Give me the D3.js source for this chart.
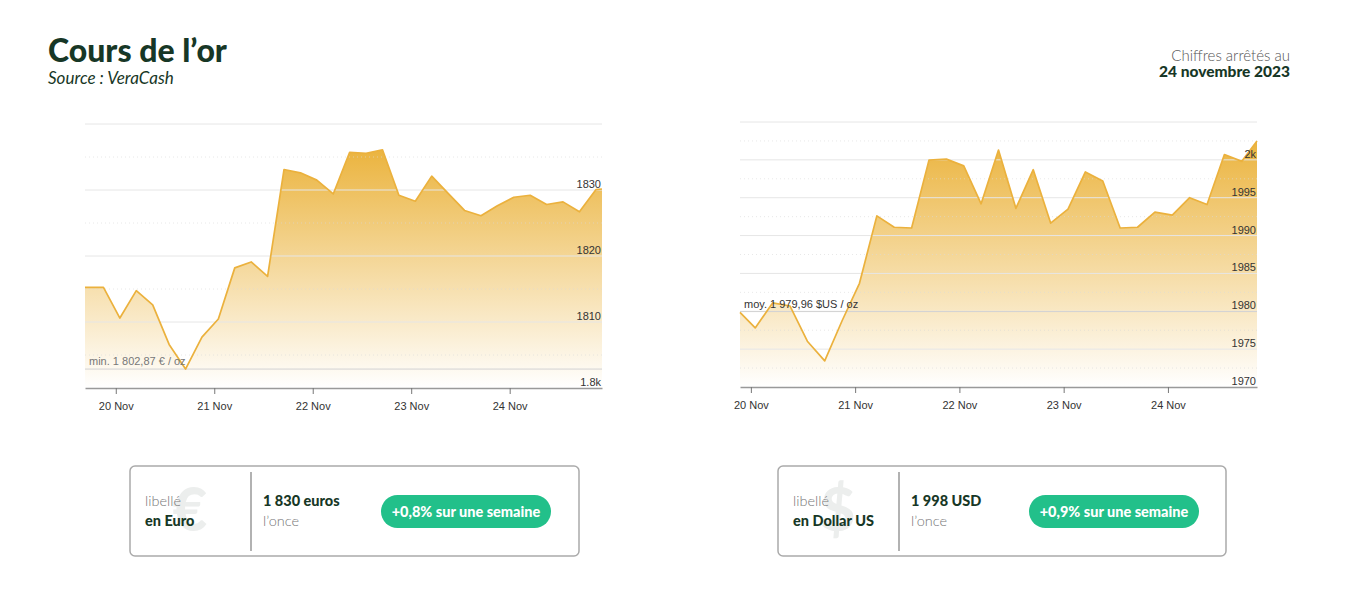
<!DOCTYPE html>
<html><head><meta charset="utf-8">
<script src="https://cdn.jsdelivr.net/npm/d3@7"></script>
<style>
html,body{margin:0;padding:0;background:#fff;}
svg{display:block;}
</style></head>
<body>
<svg id="chart" width="1350" height="600"></svg>
<script>
// ---- Data ----
const eurTimes = ["2023-11-19T16:30Z","2023-11-19T21:00Z","2023-11-20T01:00Z","2023-11-20T05:00Z","2023-11-20T09:00Z","2023-11-20T13:00Z","2023-11-20T17:00Z","2023-11-20T21:00Z","2023-11-21T01:00Z","2023-11-21T05:00Z","2023-11-21T09:00Z","2023-11-21T13:00Z","2023-11-21T17:00Z","2023-11-21T21:00Z","2023-11-22T01:00Z","2023-11-22T05:00Z","2023-11-22T09:00Z","2023-11-22T13:00Z","2023-11-22T17:00Z","2023-11-22T21:00Z","2023-11-23T01:00Z","2023-11-23T05:00Z","2023-11-23T09:00Z","2023-11-23T13:00Z","2023-11-23T17:00Z","2023-11-23T21:00Z","2023-11-24T01:00Z","2023-11-24T05:00Z","2023-11-24T09:00Z","2023-11-24T13:00Z","2023-11-24T17:00Z","2023-11-24T21:00Z","2023-11-24T22:30Z"];
const eurValues = [1815.25,1815.25,1810.6,1814.75,1812.6,1806.6,1802.87,1807.7,1810.45,1818.2,1819.1,1816.9,1833.1,1832.6,1831.5,1829.4,1835.7,1835.55,1836.1,1829.2,1828.3,1832.1,1829.5,1826.9,1826.1,1827.6,1828.9,1829.2,1827.8,1828.2,1826.7,1830.05,1830.15];
const usdTimes = ["2023-11-19T21:30Z","2023-11-20T01:00Z","2023-11-20T05:00Z","2023-11-20T09:00Z","2023-11-20T13:00Z","2023-11-20T17:00Z","2023-11-20T21:00Z","2023-11-21T01:00Z","2023-11-21T05:00Z","2023-11-21T09:00Z","2023-11-21T13:00Z","2023-11-21T17:00Z","2023-11-21T21:00Z","2023-11-22T01:00Z","2023-11-22T05:00Z","2023-11-22T09:00Z","2023-11-22T13:00Z","2023-11-22T17:00Z","2023-11-22T21:00Z","2023-11-23T01:00Z","2023-11-23T05:00Z","2023-11-23T09:00Z","2023-11-23T13:00Z","2023-11-23T17:00Z","2023-11-23T21:00Z","2023-11-24T01:00Z","2023-11-24T05:00Z","2023-11-24T09:00Z","2023-11-24T13:00Z","2023-11-24T17:00Z","2023-11-24T20:30Z"];
const usdValues = [1979.85,1977.8,1981.1,1980.7,1976.05,1973.45,1978.75,1983.7,1992.6,1991.1,1991.0,1999.96,2000.1,1999.2,1994.2,2001.3,1993.6,1998.7,1991.65,1993.5,1998.4,1997.2,1991.0,1991.1,1993.1,1992.7,1995.0,1994.1,2000.7,1999.8,2002.5];

const xTickDates = ["2023-11-20T00:00Z","2023-11-21T00:00Z","2023-11-22T00:00Z","2023-11-23T00:00Z","2023-11-24T00:00Z"];
const xTickLabels = ["20 Nov","21 Nov","22 Nov","23 Nov","24 Nov"];
const eurYTicks = [1800,1810,1820,1830,1840];
const eurYTickLabels = ["1.8k","1810","1820","1830",""];
const usdYTicks = [1970,1975,1980,1985,1990,1995,2000,2005];
const usdYTickLabels = ["1970","1975","1980","1985","1990","1995","2k",""];
const eurRefValue = 1802.87, eurRefLabel = "min. 1 802,87 € / oz";
const usdRefValue = 1979.96, usdRefLabel = "moy. 1 979,96 $US / oz";

const svg = d3.select("#chart");
const defs = svg.append("defs");
const grad = defs.append("linearGradient").attr("id","goldGrad").attr("x1",0).attr("y1",0).attr("x2",0).attr("y2",1);
grad.append("stop").attr("offset","0%").attr("stop-color","#ebb43f").attr("stop-opacity",1);
grad.append("stop").attr("offset","100%").attr("stop-color","#ebb43f").attr("stop-opacity",0.0);

const chartFont = "'Liberation Sans', Arial, sans-serif";
const uiFont = "'Source Sans Pro', Lato, 'Open Sans', sans-serif";

function drawChart(cfg) {
  const times = cfg.times.map(t => new Date(t));
  const data = times.map((t,i) => ({t, v: cfg.values[i]}));
  const x = d3.scaleUtc().domain([times[0], times[times.length-1]]).range([cfg.x0, cfg.x1]);
  const y = d3.scaleLinear().domain(cfg.yDomain).range([cfg.y1, cfg.y0]);
  const g = svg.append("g");

  const area = d3.area().x(d => x(d.t)).y0(y(cfg.yDomain[0])).y1(d => y(d.v));
  g.append("path").datum(data).attr("d", area).attr("fill","url(#goldGrad)");

  const ticks = cfg.yTicks;
  for (let i = 0; i < ticks.length-1; i++) {
    const mid = (ticks[i]+ticks[i+1])/2;
    g.append("line").attr("x1",cfg.x0).attr("x2",cfg.x1).attr("y1",y(mid)).attr("y2",y(mid))
      .attr("stroke","#d8d8d8").attr("stroke-dasharray","1,3").attr("stroke-opacity",0.6);
  }
  g.selectAll(".grid").data(ticks.slice(1)).join("line")
    .attr("x1",cfg.x0).attr("x2",cfg.x1).attr("y1",d=>y(d)).attr("y2",d=>y(d))
    .attr("stroke","#e6e6e6").attr("stroke-width",1);

  g.append("line").attr("x1",cfg.x0).attr("x2",cfg.x1).attr("y1",y(cfg.refValue)).attr("y2",y(cfg.refValue))
    .attr("stroke","#d2d2d2").attr("stroke-width",1);

  const line = d3.line().x(d => x(d.t)).y(d => y(d.v));
  g.append("path").datum(data).attr("d", line).attr("fill","none").attr("stroke","#ebb13d").attr("stroke-width",1.7).attr("stroke-linejoin","round");

  g.append("text").attr("x", cfg.x0 + cfg.refDx).attr("y", y(cfg.refValue) - cfg.refDy)
    .attr("font-family",chartFont).attr("font-size",11).attr("fill",cfg.refColor).text(cfg.refLabel);

  g.selectAll(".ylab").data(ticks).join("text")
    .attr("x", cfg.x1 - 1).attr("y", d => y(d) - 2)
    .attr("text-anchor","end").attr("font-family",chartFont).attr("font-size",11).attr("fill","#333")
    .text((d,i) => cfg.yTickLabels[i]);

  const xAxis = d3.axisBottom(x).tickValues(xTickDates.map(d=>new Date(d))).tickSize(6).tickSizeOuter(0).tickPadding(8)
    .tickFormat((d,i) => xTickLabels[i]);
  const ax = g.append("g").attr("transform",`translate(0,${cfg.y1})`).call(xAxis);
  ax.select(".domain").attr("stroke","#999").attr("stroke-width",1.3);
  ax.selectAll(".tick line").attr("stroke","#777");
  ax.selectAll(".tick text").attr("font-family",chartFont).attr("font-size",11).attr("fill","#333");
}

drawChart({times: eurTimes, values: eurValues, x0: 85, x1: 602, y0: 124, y1: 388,
  yDomain: [1800,1840], yTicks: eurYTicks, yTickLabels: eurYTickLabels,
  refValue: eurRefValue, refLabel: eurRefLabel, refDx: 4, refDy: 4, refColor: "#777"});
drawChart({times: usdTimes, values: usdValues, x0: 740, x1: 1257, y0: 122, y1: 387,
  yDomain: [1970,2005], yTicks: usdYTicks, yTickLabels: usdYTickLabels,
  refValue: usdRefValue, refLabel: usdRefLabel, refDx: 4, refDy: 4, refColor: "#333"});

// ---- Header ----
const dark = "#173726";
svg.append("text").attr("x",48).attr("y",62).attr("font-family",uiFont).attr("font-weight",900)
  .attr("font-size",32).attr("fill",dark).text("Cours de l’or");
svg.append("text").attr("x",48).attr("y",84).attr("font-family",uiFont).attr("font-style","italic").attr("font-weight",400)
  .attr("font-size",17).attr("fill",dark).text("Source : VeraCash");
svg.append("text").attr("x",1290).attr("y",61).attr("text-anchor","end").attr("font-family",uiFont).attr("font-weight",300)
  .attr("font-size",15).attr("fill","#555").text("Chiffres arrêtés au");
svg.append("text").attr("x",1290).attr("y",77).attr("text-anchor","end").attr("font-family",uiFont).attr("font-weight",900)
  .attr("font-size",15.5).attr("fill",dark).text("24 novembre 2023");

// ---- Info boxes ----
const boxes = [
  {x:130, w:449, symbol:"€", cur:"en Euro", price:"1 830 euros", change:"+0,8% sur une semaine"},
  {x:778, w:448, symbol:"$", cur:"en Dollar US", price:"1 998 USD", change:"+0,9% sur une semaine"}
];
boxes.forEach(b => {
  const g = svg.append("g").attr("transform",`translate(${b.x},466)`);
  g.append("rect").attr("x",0).attr("y",0).attr("width",b.w).attr("height",90).attr("rx",5)
    .attr("fill","#fff").attr("stroke","#aaa").attr("stroke-width",1.5);
  g.append("text").attr("x",60).attr("y",65).attr("text-anchor","middle").attr("font-family",uiFont).attr("font-weight",900)
    .attr("font-size",60).attr("fill","#eceeed").text(b.symbol);
  g.append("line").attr("x1",121).attr("x2",121).attr("y1",6).attr("y2",85).attr("stroke","#999").attr("stroke-width",1.5);
  g.append("text").attr("x",15).attr("y",40).attr("font-family",uiFont).attr("font-weight",300)
    .attr("font-size",14.5).attr("fill","#777").text("libellé");
  g.append("text").attr("x",15).attr("y",60).attr("font-family",uiFont).attr("font-weight",900)
    .attr("font-size",14.5).attr("fill",dark).text(b.cur);
  g.append("text").attr("x",133).attr("y",40).attr("font-family",uiFont).attr("font-weight",900)
    .attr("font-size",14.5).attr("fill",dark).text(b.price);
  g.append("text").attr("x",133).attr("y",60).attr("font-family",uiFont).attr("font-weight",300)
    .attr("font-size",14.5).attr("fill","#777").text("l’once");
  g.append("rect").attr("x",251).attr("y",29).attr("width",170).attr("height",33).attr("rx",16.5).attr("fill","#22c08a");
  g.append("text").attr("x",336).attr("y",50.5).attr("text-anchor","middle").attr("font-family",uiFont).attr("font-weight",900)
    .attr("font-size",14.5).attr("fill","#fff").text(b.change);
});
</script>
</body></html>
